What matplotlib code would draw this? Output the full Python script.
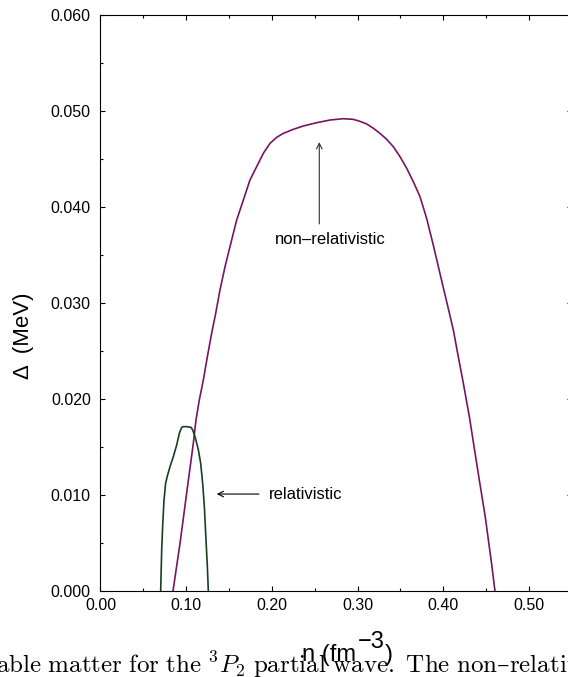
import matplotlib
matplotlib.use("Agg")
import matplotlib.pyplot as plt
from matplotlib.ticker import MultipleLocator, FormatStrFormatter

# data
n_nonrel = [0.0846, 0.0928, 0.1005, 0.1083, 0.1114, 0.1153, 0.1200, 0.1247, 0.1297,
            0.1344, 0.1394, 0.1453, 0.1511, 0.1589, 0.1667, 0.1744, 0.1822, 0.1900,
            0.1978, 0.2056, 0.2133, 0.2250, 0.2367, 0.2522, 0.2678, 0.2833, 0.2950,
            0.3028, 0.3106, 0.3184, 0.3261, 0.3339, 0.3417, 0.3495, 0.3573, 0.3650,
            0.3728, 0.3806, 0.3884, 0.3942, 0.4000, 0.4059, 0.4117, 0.4175, 0.4234,
            0.4304, 0.4420, 0.4490, 0.4564, 0.4603]
gap_nonrel = [0.0, 0.00497, 0.01017, 0.01538, 0.01781, 0.0199, 0.02198, 0.02441, 0.02684,
              0.02892, 0.03135, 0.03378, 0.03587, 0.03865, 0.04073, 0.04281, 0.0442, 0.04559,
              0.04663, 0.04726, 0.04767, 0.04809, 0.04844, 0.04878, 0.04906, 0.0492, 0.04913,
              0.04892, 0.04865, 0.0482, 0.04767, 0.04705, 0.04628, 0.04524, 0.04403, 0.04264,
              0.04108, 0.0388, 0.0360, 0.0338, 0.0316, 0.0294, 0.02719, 0.02441, 0.02163,
              0.01816, 0.01156, 0.0077, 0.0028, 0.0]

n_rel = [0.0702, 0.0714, 0.0725, 0.0741, 0.0760, 0.0780, 0.0811, 0.0850, 0.0889,
         0.0920, 0.0947, 0.0967, 0.1005, 0.1056, 0.1076, 0.1103, 0.1142, 0.1169,
         0.1192, 0.1212, 0.1231, 0.1247, 0.1258]
gap_rel = [0.0, 0.00427, 0.0067, 0.00948, 0.01122, 0.01198, 0.01295, 0.0140, 0.01521,
           0.01642, 0.01705, 0.01712, 0.01712, 0.01705, 0.01677, 0.01608, 0.01469, 0.0133,
           0.01122, 0.00878, 0.00531, 0.00253, 0.0]

W, H = 568, 677
plt.rcParams['font.family'] = ['Liberation Sans', 'DejaVu Sans']

fig = plt.figure(figsize=(W / 100, H / 100), dpi=100)

def fx(px):
    return px / W

def fy(py):
    return 1 - py / H

# axes box: x=0 at 100.5px, 0.1 per 85.7px; y 0.06 at 15px, 0 at 591px
ax = fig.add_axes([fx(100.5), fy(591), 0.55 * 857 / W, 576 / H])

ax.plot(n_nonrel, gap_nonrel, color='#781464', lw=1.2)
ax.plot(n_rel, gap_rel, color='#17401f', lw=1.2)

ax.set_xlim(0, 0.55)
ax.set_ylim(0, 0.060)
ax.xaxis.set_major_locator(MultipleLocator(0.1))
ax.xaxis.set_minor_locator(MultipleLocator(0.05))
ax.yaxis.set_major_locator(MultipleLocator(0.01))
ax.yaxis.set_minor_locator(MultipleLocator(0.005))
ax.xaxis.set_major_formatter(FormatStrFormatter('%.2f'))
ax.yaxis.set_major_formatter(FormatStrFormatter('%.3f'))
ax.tick_params(which='both', direction='in', top=True, right=True, width=0.8)
ax.tick_params(which='major', length=3.6, labelsize=11.5)
ax.tick_params(which='minor', length=2.2)
ax.tick_params(axis='x', pad=5)
ax.tick_params(axis='y', pad=7)
for s in ax.spines.values():
    s.set_linewidth(0.8)

# annotations
ax.annotate('', xy=(0.1324, 0.0101), xytext=(0.1881, 0.0101),
            arrowprops=dict(arrowstyle='->', color='black', lw=0.8))
ax.text(0.1970, 0.0101, 'relativistic', fontsize=12, va='center', ha='left')
ax.annotate('', xy=(0.2553, 0.04705), xytext=(0.2553, 0.03795),
            arrowprops=dict(arrowstyle='->', color='#333333', lw=0.8))
ax.text(0.2036, 0.0366, 'non\u2013relativistic', fontsize=12, va='center', ha='left')

# axis labels
fig.text(fx(24), fy(336), '\u0394  (MeV)', rotation=90, fontsize=16,
         ha='center', va='center')
fig.text(fx(302.5), fy(661.5), 'n (fm', fontsize=17, ha='left', va='baseline')
fig.text(fx(358), fy(648), '\u22123', fontsize=17, ha='left', va='baseline')
fig.text(fx(385), fy(661.5), ')', fontsize=17, ha='left', va='baseline')

# cropped caption below the figure
fig.text(fx(-4), fy(673),
         r'$\mathrm{able\ matter\ for\ the\ }{}^3P_2\mathrm{\ partial\ wave.\ The\ non}$'
         '\u2013' r'$\mathrm{relativ}$',
         fontsize=18, math_fontfamily='cm', family='DejaVu Serif',
         ha='left', va='baseline')

fig.savefig('out.png', dpi=100)
